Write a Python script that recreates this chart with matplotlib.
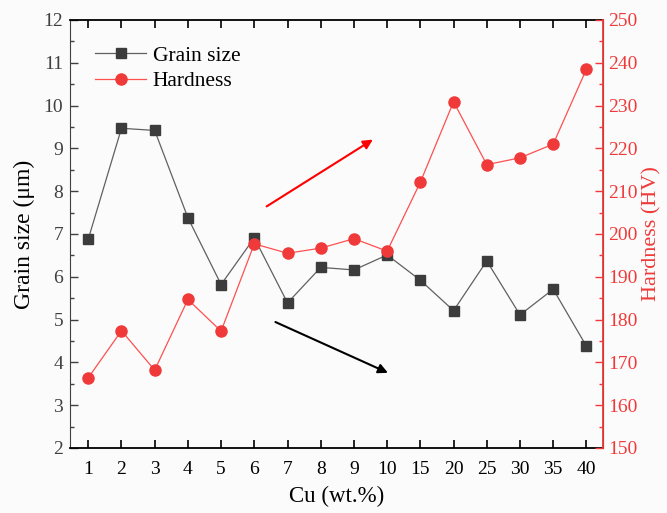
import matplotlib
matplotlib.use("Agg")
import matplotlib.pyplot as plt
from matplotlib.ticker import MultipleLocator

plt.rcParams['font.family'] = ['Liberation Serif', 'DejaVu Serif']

cu_labels = ["1", "2", "3", "4", "5", "6", "7", "8", "9", "10", "15", "20", "25", "30", "35", "40"]
grain_size = [6.88, 9.47, 9.42, 7.38, 5.82, 6.91, 5.39, 6.22, 6.16, 6.51, 5.92, 5.21, 6.37, 5.11, 5.71, 4.38]
hardness = [166.4, 177.4, 168.2, 184.7, 177.3, 197.7, 195.5, 196.7, 198.9, 196.0, 212.1, 230.9, 216.2, 217.8, 221.0, 238.5]

RED = "#f03a3a"
GRAY = "#404040"

fig = plt.figure(figsize=(6.67, 5.13), dpi=100)
fig.patch.set_facecolor("#fbfbfb")
ax = fig.add_axes([70/667, 1-448/513, (603-70)/667, (448-20)/513])
ax.set_facecolor("#fbfbfb")
ax2 = ax.twinx()

x = list(range(len(cu_labels)))
l1, = ax.plot(x, grain_size, color="#606060", lw=0.9, marker="s", ms=7,
              mfc="#3c3c3c", mec="#3c3c3c", label="Grain size", zorder=3)
l2, = ax2.plot(x, hardness, color="#ff5050", lw=0.9, marker="o", ms=8,
               mfc=RED, mec=RED, label="Hardness", zorder=3)

ax.set_xlim(-0.55, 15.5)
ax.set_ylim(2, 12)
ax2.set_ylim(150, 250)
ax.set_xticks(x)
ax.set_xticklabels(cu_labels)
ax.yaxis.set_major_locator(MultipleLocator(1))
ax.yaxis.set_minor_locator(MultipleLocator(0.5))
ax2.yaxis.set_major_locator(MultipleLocator(10))
ax2.yaxis.set_minor_locator(MultipleLocator(5))

ax.tick_params(axis="x", direction="in", length=6, width=1.2, top=True,
               labelsize=14, colors="black", pad=9)
ax.tick_params(axis="y", which="major", direction="in", length=6, width=1.0,
               labelsize=14, labelcolor=GRAY, color=GRAY, pad=5)
ax.tick_params(axis="y", which="minor", direction="in", length=3, width=1.0, color=GRAY)
ax2.tick_params(axis="y", which="major", direction="in", length=6, width=1.0,
                labelsize=14, colors=RED, pad=4)
ax2.tick_params(axis="y", which="minor", direction="in", length=3, width=1.0, colors=RED)

for s in ["top", "bottom"]:
    ax.spines[s].set_linewidth(1.3)
ax.spines["left"].set_color(GRAY)
ax2.spines["right"].set_color(RED)
ax2.spines["right"].set_linewidth(1.3)
ax2.spines["left"].set_visible(False)
ax2.spines["top"].set_visible(False)
ax2.spines["bottom"].set_visible(False)

ax.set_xlabel("Cu (wt.%)", fontsize=16.5, labelpad=6)
ax.set_ylabel("Grain size (\u03bcm)", fontsize=17, labelpad=6)
ax2.set_ylabel("Hardness (HV)", fontsize=16, color=RED, labelpad=3)

ax.annotate("", xy=(8.64, 9.24), xytext=(5.3, 7.61),
            arrowprops=dict(arrowstyle="-|>", color="red", lw=1.5, mutation_scale=14))
ax.annotate("", xy=(9.1, 3.73), xytext=(5.56, 4.97),
            arrowprops=dict(arrowstyle="-|>", color="black", lw=1.5, mutation_scale=14))

leg = ax.legend(handles=[l1, l2], loc="upper left", bbox_to_anchor=(0.01, 0.985),
                frameon=False, fontsize=15.5, handlelength=2.4, handletextpad=0.3,
                labelspacing=0.25)

fig.savefig("out.png", dpi=100, facecolor=fig.get_facecolor())
